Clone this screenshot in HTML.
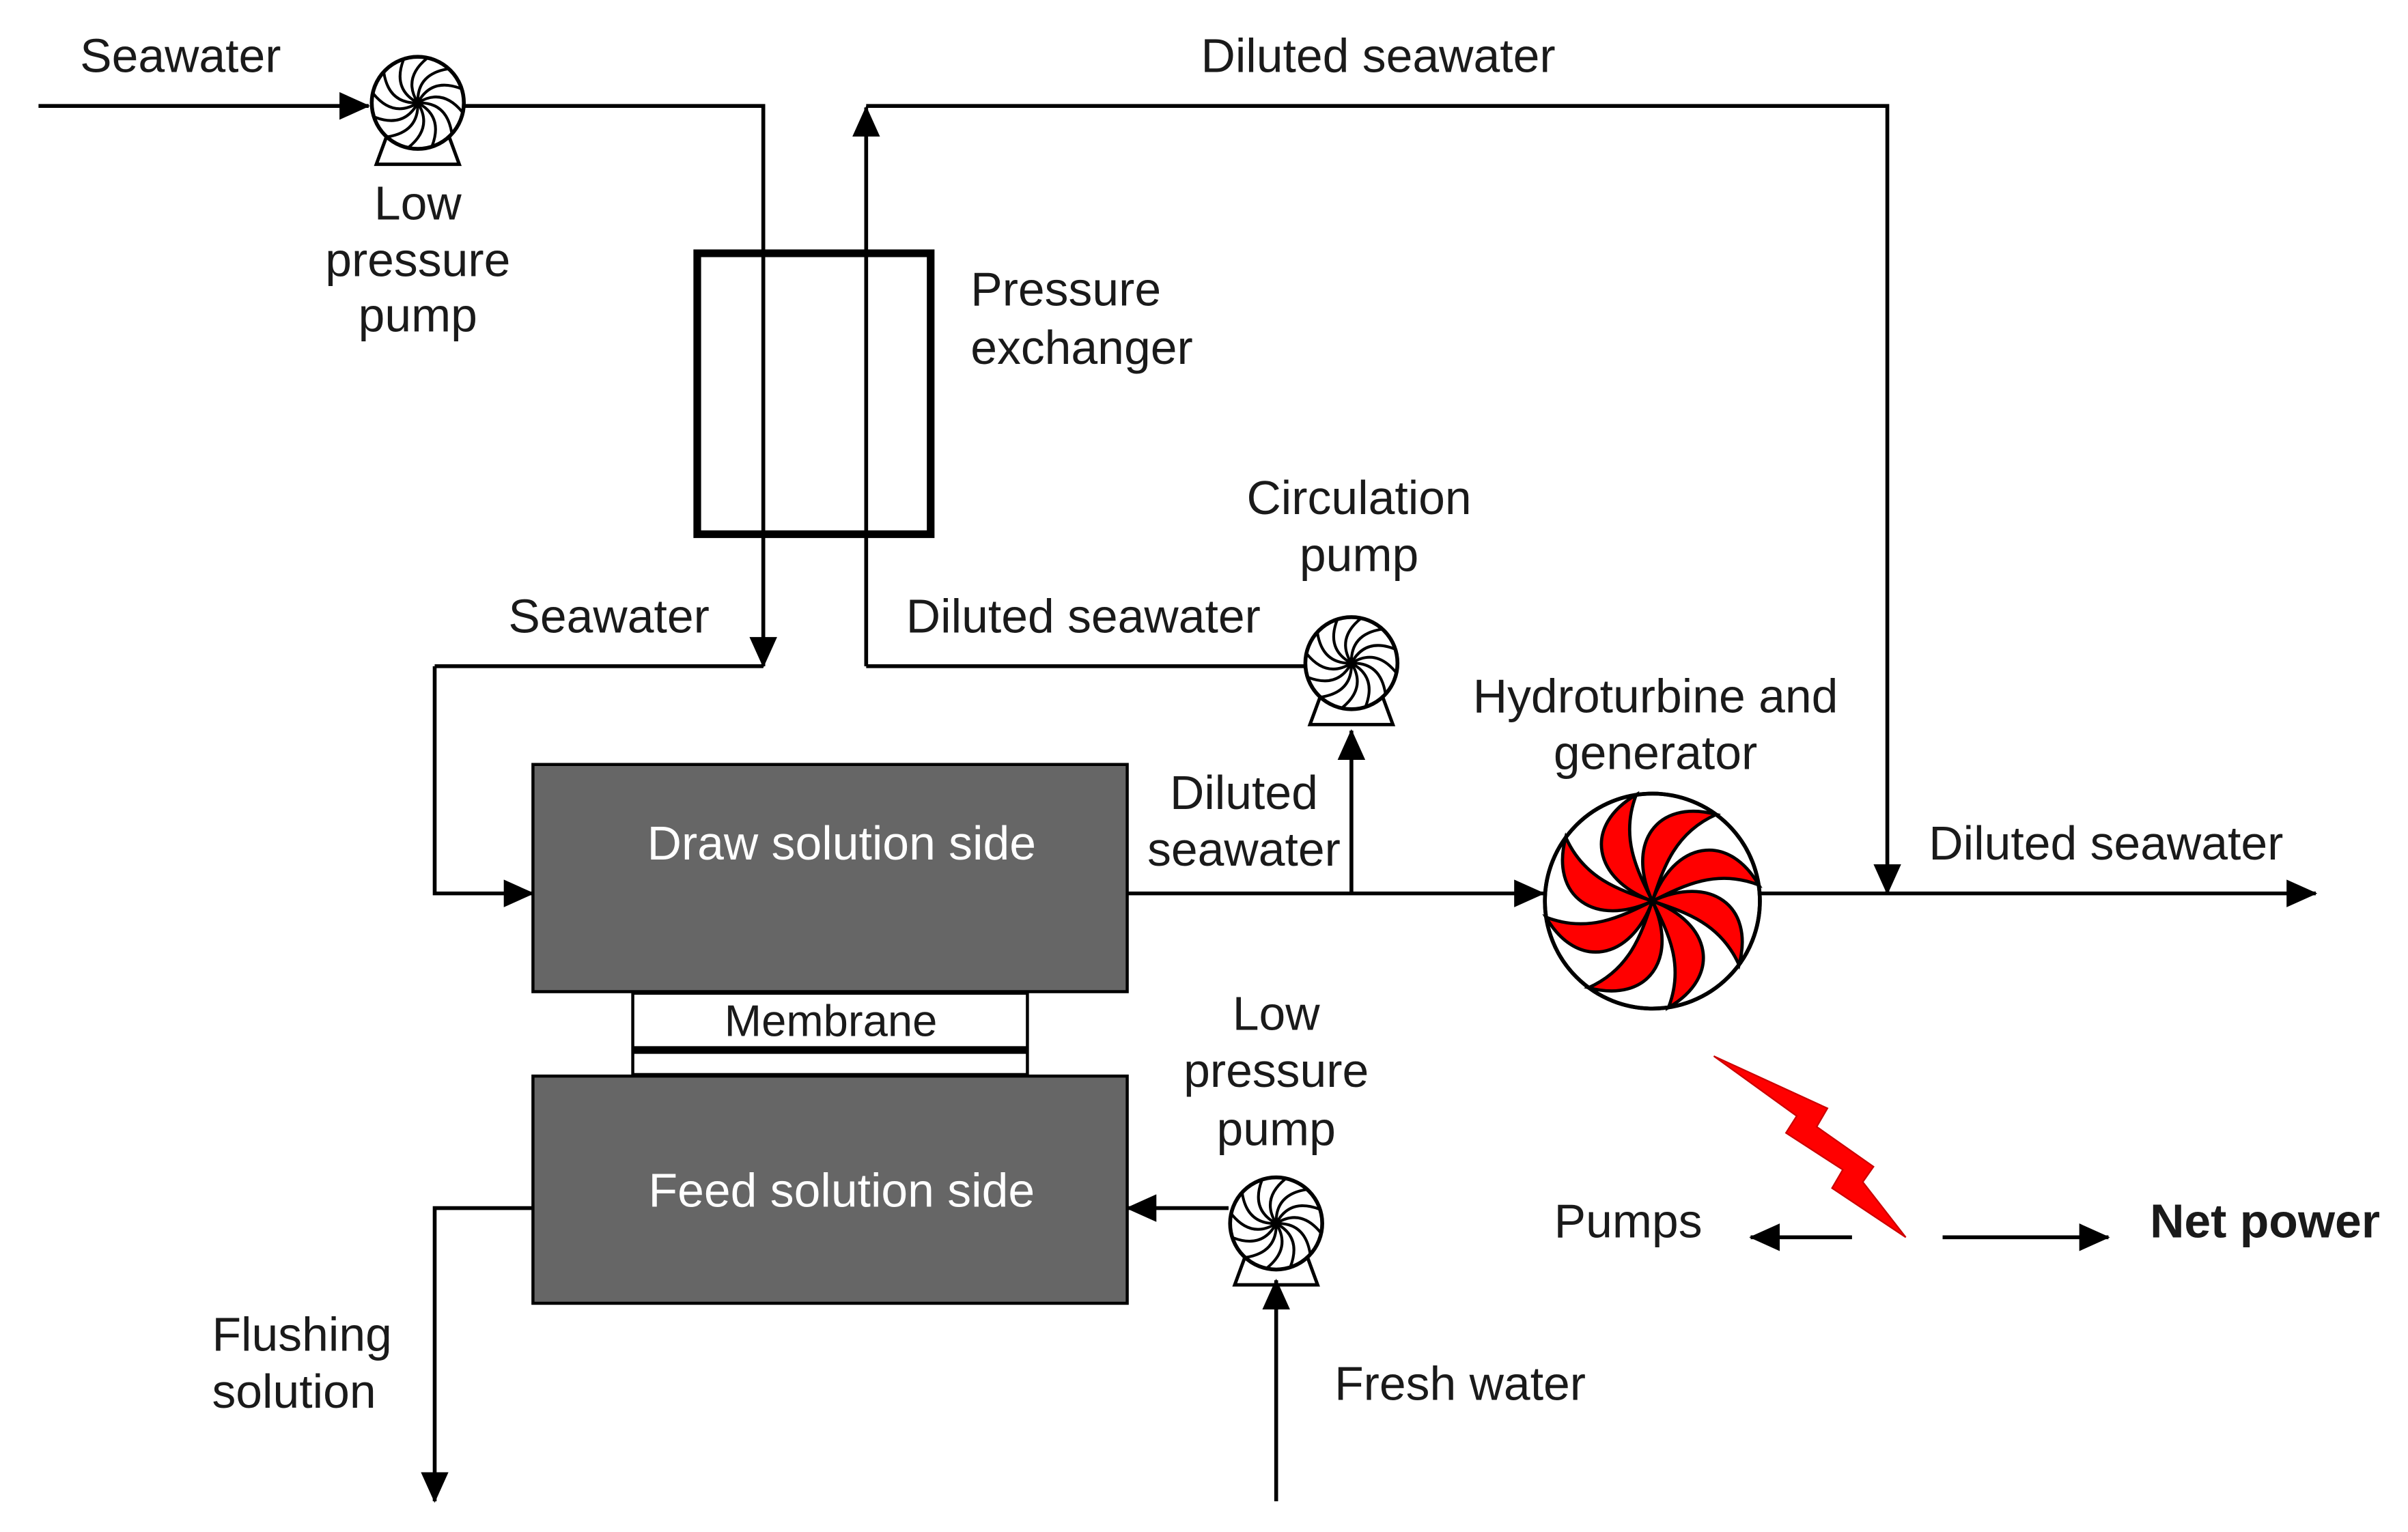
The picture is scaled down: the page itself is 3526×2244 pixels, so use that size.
<!DOCTYPE html>
<html><head><style>html,body{margin:0;padding:0;background:#fff}svg{display:block}</style></head>
<body>
<svg width="3526" height="2244" viewBox="0 0 1568 998" xmlns="http://www.w3.org/2000/svg" font-family="Liberation Sans, sans-serif" font-size="31" fill="#1a1a1a">
<defs>
<marker id="a" markerWidth="20" markerHeight="18" refX="19" refY="9" orient="auto" markerUnits="userSpaceOnUse" viewBox="0 0 20 18"><path d="M0,0L20,9L0,18Z" fill="#000"/></marker>
<g id="pump" stroke="#000" fill="#fff">
<path d="M-20,21 L-27,40 L27,40 L20,21" stroke-width="2.2" fill="none"/>
<circle r="30" stroke-width="2.5"/>
<g fill="none" stroke-width="1.8">
<path d="M0,0 Q16,-10 29,6"/><path d="M0,0 Q16,-10 29,6" transform="rotate(30)"/><path d="M0,0 Q16,-10 29,6" transform="rotate(60)"/><path d="M0,0 Q16,-10 29,6" transform="rotate(90)"/><path d="M0,0 Q16,-10 29,6" transform="rotate(120)"/><path d="M0,0 Q16,-10 29,6" transform="rotate(150)"/><path d="M0,0 Q16,-10 29,6" transform="rotate(180)"/><path d="M0,0 Q16,-10 29,6" transform="rotate(210)"/><path d="M0,0 Q16,-10 29,6" transform="rotate(240)"/><path d="M0,0 Q16,-10 29,6" transform="rotate(270)"/><path d="M0,0 Q16,-10 29,6" transform="rotate(300)"/><path d="M0,0 Q16,-10 29,6" transform="rotate(330)"/>
</g></g>
<path id="bl" d="M0,0 C0.2,-0.55 0.7,-0.65 0.99,-0.15 C0.6,-0.3 0.3,-0.15 0,0Z"/>
</defs>
<g stroke="#000" stroke-width="2.5" fill="none">
<line x1="25" y1="69" x2="240" y2="69" marker-end="url(#a)"/>
<polyline points="302,69 497,69 497,434" marker-end="url(#a)"/>
<line x1="564" y1="434" x2="564" y2="70" marker-end="url(#a)"/>
<polyline points="564,69 1229,69 1229,582" marker-end="url(#a)"/>
<line x1="283" y1="434" x2="497" y2="434"/>
<polyline points="283,434 283,582 347,582" marker-end="url(#a)"/>
<line x1="564" y1="434" x2="850" y2="434"/>
<line x1="734" y1="582" x2="1005" y2="582" marker-end="url(#a)"/>
<line x1="880" y1="582" x2="880" y2="476" marker-end="url(#a)"/>
<line x1="1146" y1="582" x2="1508" y2="582" marker-end="url(#a)"/>
<line x1="800" y1="787" x2="734" y2="787" marker-end="url(#a)"/>
<line x1="831" y1="978" x2="831" y2="834" marker-end="url(#a)"/>
<polyline points="347,787 283,787 283,978" marker-end="url(#a)"/>
<line x1="1206" y1="806" x2="1140" y2="806" marker-end="url(#a)"/>
<line x1="1265" y1="806" x2="1373" y2="806" marker-end="url(#a)"/>
<rect x="454" y="165" width="152" height="183" stroke-width="5"/>
</g>
<rect x="412" y="647" width="257" height="53" fill="#fff" stroke="#000" stroke-width="2"/>
<line x1="412" y1="684" x2="669" y2="684" stroke="#000" stroke-width="5"/>
<rect x="347" y="498" width="387" height="148" fill="#666" stroke="#000" stroke-width="2"/>
<rect x="347" y="701" width="387" height="148" fill="#666" stroke="#000" stroke-width="2"/>
<use href="#pump" x="272" y="67"/>
<use href="#pump" x="880" y="432"/>
<use href="#pump" x="831" y="797"/>
<g transform="translate(1076,587)">
<circle r="70" fill="#fff" stroke="#000" stroke-width="2.5"/>
<g fill="red" stroke="#000" transform="scale(70)" stroke-width="0.03">
<use href="#bl"/>
<use href="#bl" transform="rotate(45)"/>
<use href="#bl" transform="rotate(90)"/>
<use href="#bl" transform="rotate(135)"/>
<use href="#bl" transform="rotate(180)"/>
<use href="#bl" transform="rotate(225)"/>
<use href="#bl" transform="rotate(270)"/>
<use href="#bl" transform="rotate(315)"/>
</g>
<circle r="70" fill="none" stroke="#000" stroke-width="2.5"/>
</g>
<polygon points="1116,688 1190,722 1183,734 1220,760 1213,770 1241,806 1193,774 1200,762 1163,738 1170,727" fill="red" stroke="#c00" stroke-width="1"/>
<text x="52" y="47">Seawater</text>
<text x="782" y="47">Diluted seawater</text>
<g text-anchor="middle">
<text x="272" y="143">Low</text><text x="272" y="180">pressure</text><text x="272" y="216">pump</text>
<text x="885" y="335">Circulation</text><text x="885" y="372">pump</text>
<text x="1078" y="464">Hydroturbine and</text><text x="1078" y="501">generator</text>
<text x="810" y="527">Diluted</text><text x="810" y="564">seawater</text>
<text x="831" y="671">Low</text><text x="831" y="708">pressure</text><text x="831" y="746">pump</text>
<text x="541" y="675" font-size="29">Membrane</text>
<text x="548" y="560" fill="#fff">Draw solution side</text>
<text x="548" y="786" fill="#fff">Feed solution side</text>
</g>
<text x="632" y="199">Pressure</text><text x="632" y="237">exchanger</text>
<text x="331" y="412">Seawater</text>
<text x="590" y="412">Diluted seawater</text>
<text x="1256" y="560">Diluted seawater</text>
<text x="1012" y="806">Pumps</text>
<text x="1400" y="806" font-weight="bold">Net power</text>
<text x="138" y="880">Flushing</text><text x="138" y="917">solution</text>
<text x="869" y="912">Fresh water</text>
</svg>
</body></html>
